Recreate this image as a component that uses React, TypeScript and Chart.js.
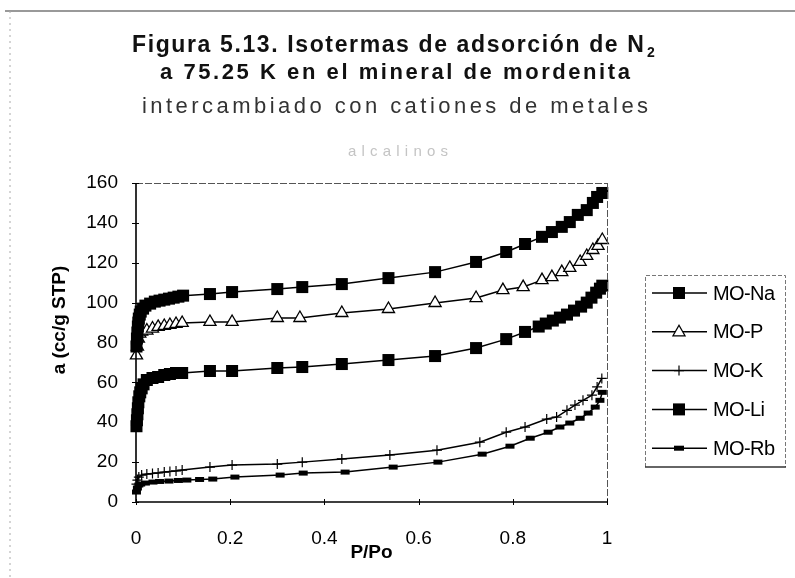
import React, { useEffect, useRef } from "react";
import { Chart, registerables } from "chart.js";

Chart.register(...registerables);

// ---------------- DATA ----------------
const naP = [0.001, 0.002, 0.003, 0.004, 0.005, 0.006, 0.008, 0.01, 0.015, 0.02, 0.03, 0.04, 0.05, 0.06, 0.07, 0.08, 0.09, 0.1, 0.157, 0.204, 0.3, 0.353, 0.437, 0.536, 0.635, 0.722, 0.786, 0.826, 0.862, 0.883, 0.904, 0.921, 0.938, 0.957, 0.97, 0.979, 0.99];
const naA = [78, 82, 85, 88, 90, 92, 94, 95.5, 97, 98.5, 99.5, 100.5, 101, 101.5, 102, 102.5, 103, 103.5, 104.3, 105.3, 106.8, 107.8, 109.3, 112.3, 115.3, 120.4, 125.4, 129.4, 133, 135.4, 138, 140.4, 144, 146.4, 150, 153, 155];

const pP = [0.001, 0.003, 0.005, 0.008, 0.012, 0.023, 0.035, 0.047, 0.06, 0.072, 0.085, 0.098, 0.157, 0.204, 0.3, 0.348, 0.437, 0.536, 0.635, 0.722, 0.779, 0.822, 0.862, 0.883, 0.904, 0.921, 0.943, 0.957, 0.97, 0.981, 0.99];
const pA = [73.5, 78, 82, 84.5, 85.5, 86, 87, 87.8, 88.3, 88.8, 89.3, 89.8, 90.3, 90.3, 92.3, 92.3, 94.8, 96.8, 99.8, 102.3, 106.3, 107.8, 111.3, 112.8, 115.3, 117.4, 120.4, 123.4, 126.4, 128.5, 131.4];

const kP = [0.001, 0.003, 0.006, 0.012, 0.023, 0.035, 0.047, 0.06, 0.072, 0.085, 0.098, 0.157, 0.204, 0.3, 0.353, 0.437, 0.539, 0.639, 0.73, 0.786, 0.826, 0.872, 0.893, 0.915, 0.932, 0.949, 0.968, 0.979, 0.989];
const kA = [9, 11, 12.5, 13.5, 14, 14.3, 14.6, 15, 15.3, 15.6, 16, 17.5, 18.5, 19, 20, 21.6, 23.6, 26, 30, 35, 37.6, 41.6, 42.6, 46, 48.6, 51, 53.6, 57.7, 62];

const liP = [0.001, 0.002, 0.003, 0.004, 0.005, 0.007, 0.009, 0.012, 0.016, 0.023, 0.035, 0.047, 0.06, 0.072, 0.085, 0.098, 0.157, 0.204, 0.3, 0.353, 0.437, 0.536, 0.635, 0.722, 0.786, 0.826, 0.855, 0.87, 0.885, 0.9, 0.915, 0.93, 0.945, 0.957, 0.967, 0.977, 0.985, 0.99];
const liA = [38, 41, 44, 47, 50, 53, 55, 57, 59, 61.2, 62.2, 62.7, 63.7, 64.2, 64.7, 64.7, 65.7, 65.7, 67.2, 67.7, 69.2, 71.2, 73.2, 77.2, 81.7, 85.3, 88, 89.5, 91, 92.5, 94, 96, 98, 100, 102.5, 105, 107, 108.5];

const rbP = [0.001, 0.003, 0.006, 0.01, 0.02, 0.036, 0.05, 0.07, 0.09, 0.108, 0.135, 0.163, 0.21, 0.306, 0.355, 0.444, 0.546, 0.641, 0.735, 0.794, 0.837, 0.875, 0.9, 0.921, 0.943, 0.96, 0.975, 0.985, 0.99];
const rbA = [5, 7, 8.5, 9, 9.5, 10, 10.3, 10.5, 10.8, 11, 11.3, 11.5, 12.5, 13.5, 14.5, 15, 17.5, 20, 24, 28, 32, 35, 37.6, 39.6, 42, 44.6, 47.6, 51, 55];

const SERIES_NAMES = ["MO-Na", "MO-P", "MO-K", "MO-Li", "MO-Rb"];
const X_TICK_VALUES = [0, 0.2, 0.4, 0.6, 0.8, 1];
const X_TICK_LABELS = ["0", "0.2", "0.4", "0.6", "0.8", "1"];
const Y_TICK_VALUES = [0, 20, 40, 60, 80, 100, 120, 140, 160];
const Y_TICK_LABELS = ["0", "20", "40", "60", "80", "100", "120", "140", "160"];

const TITLE_1 = "Figura 5.13. Isotermas de adsorción de N";
const TITLE_1_SUB = "2";
const TITLE_2 = "a 75.25 K en el mineral de mordenita";
const TITLE_3 = "intercambiado con cationes de metales";
const TITLE_4 = "alcalinos";
const X_TITLE = "P/Po";
const Y_TITLE = "a (cc/g STP)";

// --------------------------------------
const FONT = "'Liberation Sans', Arial, sans-serif";
const MARKERS = ["rect", "triangle", "cross", "rect", "line"];

function pts(xs: number[], ys: number[]) {
  return xs.map((v, i) => ({ x: v, y: ys[i] }));
}

function drawMarker(ctx: CanvasRenderingContext2D, kind: string, x: number, y: number) {
  ctx.save();
  ctx.fillStyle = "#000";
  ctx.strokeStyle = "#000";
  if (kind === "rect") {
    ctx.fillRect(x - 6, y - 6, 12, 12);
  } else if (kind === "triangle") {
    ctx.fillStyle = "#fff";
    ctx.lineWidth = 1.3;
    ctx.beginPath();
    ctx.moveTo(x, y - 6.5);
    ctx.lineTo(x + 6, y + 4);
    ctx.lineTo(x - 6, y + 4);
    ctx.closePath();
    ctx.fill();
    ctx.stroke();
  } else if (kind === "cross") {
    ctx.lineWidth = 1.2;
    ctx.beginPath();
    ctx.moveTo(x, y - 5);
    ctx.lineTo(x, y + 5);
    ctx.moveTo(x - 5, y);
    ctx.lineTo(x + 5, y);
    ctx.stroke();
  } else if (kind === "line") {
    ctx.fillRect(x - 5, y - 2.5, 10, 5);
  }
  ctx.restore();
}

function fitText(ctx: CanvasRenderingContext2D, text: string, left: number, right: number, y: number) {
  (ctx as any).letterSpacing = "0px";
  const w = ctx.measureText(text).width;
  const n = Math.max(text.length - 1, 1);
  const sp = (right - left - w) / n;
  (ctx as any).letterSpacing = sp.toFixed(2) + "px";
  ctx.textAlign = "left";
  ctx.fillText(text, left, y);
  (ctx as any).letterSpacing = "0px";
}

const decorPlugin = {
  id: "decor",
  afterDraw(chart: any) {
    const ctx: CanvasRenderingContext2D = chart.ctx;
    const ca = chart.chartArea;
    const xs = chart.scales.x;
    const ys = chart.scales.y;
    ctx.save();

    // page border (scan edges)
    ctx.strokeStyle = "#777";
    ctx.lineWidth = 1.5;
    ctx.beginPath();
    ctx.moveTo(5, 11);
    ctx.lineTo(795, 11);
    ctx.stroke();
    ctx.strokeStyle = "#aaa";
    ctx.lineWidth = 1;
    ctx.setLineDash([2, 4]);
    ctx.beginPath();
    ctx.moveTo(10, 11);
    ctx.lineTo(10, 578);
    ctx.stroke();
    ctx.setLineDash([]);

    // plot box
    ctx.strokeStyle = "#555";
    ctx.lineWidth = 1;
    ctx.setLineDash([7, 2]);
    ctx.beginPath();
    ctx.moveTo(ca.left, ca.top + 0.5);
    ctx.lineTo(ca.right, ca.top + 0.5);
    ctx.moveTo(ca.right + 0.5, ca.top);
    ctx.lineTo(ca.right + 0.5, ca.bottom);
    ctx.stroke();
    ctx.setLineDash([]);
    ctx.strokeStyle = "#000";
    ctx.lineWidth = 1.6;
    ctx.beginPath();
    ctx.moveTo(ca.left, ca.top);
    ctx.lineTo(ca.left, ca.bottom);
    ctx.lineTo(ca.right + 1, ca.bottom);
    ctx.stroke();

    // tick marks crossing the axes
    ctx.lineWidth = 1;
    ctx.beginPath();
    for (const v of Y_TICK_VALUES) {
      const py = Math.round(ys.getPixelForValue(v)) + 0.5;
      ctx.moveTo(ca.left - 4, py);
      ctx.lineTo(ca.left + 3, py);
    }
    for (const v of X_TICK_VALUES) {
      const px = Math.round(xs.getPixelForValue(v)) + 0.5;
      ctx.moveTo(px, ca.bottom - 3);
      ctx.lineTo(px, ca.bottom + 3);
    }
    ctx.stroke();

    // titles
    ctx.fillStyle = "#111";
    ctx.textBaseline = "alphabetic";
    ctx.font = `bold 23px ${FONT}`;
    fitText(ctx, TITLE_1, 132, 644, 52);
    ctx.font = `bold 14px ${FONT}`;
    ctx.textAlign = "left";
    ctx.fillText(TITLE_1_SUB, 647, 57);
    ctx.font = `bold 22px ${FONT}`;
    fitText(ctx, TITLE_2, 160, 630, 79);
    ctx.fillStyle = "#333";
    ctx.font = `22px ${FONT}`;
    fitText(ctx, TITLE_3, 142, 648, 113);
    ctx.fillStyle = "#c4c4c4";
    ctx.font = `15px ${FONT}`;
    fitText(ctx, TITLE_4, 348, 448, 156);

    // y-axis title
    ctx.save();
    ctx.translate(60, 320);
    ctx.rotate(-Math.PI / 2);
    ctx.fillStyle = "#000";
    ctx.font = `bold 19px ${FONT}`;
    ctx.textAlign = "center";
    ctx.textBaseline = "middle";
    ctx.fillText(Y_TITLE, 0, 0);
    ctx.restore();

    // legend
    const lx = 645, lt = 275, lr = 785, lb = 467;
    ctx.strokeStyle = "#777";
    ctx.lineWidth = 1;
    ctx.setLineDash([4, 2]);
    ctx.beginPath();
    ctx.moveTo(lx + 0.5, lb);
    ctx.lineTo(lx + 0.5, lt + 0.5);
    ctx.lineTo(lr + 0.5, lt + 0.5);
    ctx.lineTo(lr + 0.5, lb);
    ctx.stroke();
    ctx.setLineDash([]);
    ctx.strokeStyle = "#333";
    ctx.lineWidth = 1.5;
    ctx.beginPath();
    ctx.moveTo(lx, lb);
    ctx.lineTo(lr + 1, lb);
    ctx.stroke();

    SERIES_NAMES.forEach((name, i) => {
      const y = 293 + i * 38.8;
      ctx.strokeStyle = "#000";
      ctx.lineWidth = 1.5;
      ctx.beginPath();
      ctx.moveTo(652, y);
      ctx.lineTo(707, y);
      ctx.stroke();
      drawMarker(ctx, MARKERS[i], 679, y);
      ctx.fillStyle = "#000";
      ctx.font = `20px ${FONT}`;
      ctx.textAlign = "left";
      ctx.textBaseline = "middle";
      (ctx as any).letterSpacing = "-0.6px";
      ctx.fillText(name, 713, y + 1);
      (ctx as any).letterSpacing = "0px";
    });

    ctx.restore();
  },
};

export default function App() {
  const ref = useRef<HTMLCanvasElement | null>(null);

  useEffect(() => {
    document.body.style.margin = "0";
    const canvas = ref.current;
    if (!canvas) return;

    const common = {
      borderColor: "#000",
      borderWidth: 1.5,
      pointBorderColor: "#000",
      showLine: true,
      tension: 0,
      clip: false as any,
    };

    const chart = new Chart(canvas, {
      type: "scatter",
      data: {
        datasets: [
          { ...common, label: SERIES_NAMES[0], data: pts(naP, naA), pointStyle: "rect", pointRadius: 8.5, pointBackgroundColor: "#000", pointBorderWidth: 0 },
          { ...common, label: SERIES_NAMES[1], data: pts(pP, pA), pointStyle: "triangle", pointRadius: 7, pointBackgroundColor: "#fff", pointBorderWidth: 1.3 },
          { ...common, label: SERIES_NAMES[2], data: pts(kP, kA), pointStyle: "cross", pointRadius: 5, pointBorderWidth: 1.2 },
          { ...common, label: SERIES_NAMES[3], data: pts(liP, liA), pointStyle: "rect", pointRadius: 8.5, pointBackgroundColor: "#000", pointBorderWidth: 0 },
          { ...common, label: SERIES_NAMES[4], data: pts(rbP, rbA), pointStyle: "line", pointRadius: 4.5, pointBorderWidth: 5 },
        ] as any,
      },
      options: {
        animation: false,
        responsive: false,
        devicePixelRatio: 1,
        layout: { padding: { left: 0, right: 188, top: 183, bottom: 0 } },
        plugins: {
          legend: { display: false },
          tooltip: { enabled: false },
          title: { display: false },
        },
        scales: {
          x: {
            type: "linear",
            min: 0,
            max: 1,
            grid: { display: false, drawTicks: false },
            border: { display: false },
            afterBuildTicks: (s: any) => {
              s.ticks = X_TICK_VALUES.map((v) => ({ value: v }));
            },
            afterFit: (s: any) => {
              s.height = 76;
            },
            ticks: {
              color: "#000",
              padding: 25,
              maxRotation: 0,
              autoSkip: false,
              font: { size: 19, family: FONT },
              callback: (v: any) => X_TICK_LABELS[X_TICK_VALUES.indexOf(Number(v))] ?? "",
            },
            title: {
              display: true,
              text: X_TITLE,
              color: "#000",
              font: { size: 19, weight: "bold", family: FONT },
              padding: { top: 0, bottom: 14 },
            },
          },
          y: {
            type: "linear",
            min: 0,
            max: 160,
            grid: { display: false, drawTicks: false },
            border: { display: false },
            afterBuildTicks: (s: any) => {
              s.ticks = Y_TICK_VALUES.map((v) => ({ value: v }));
            },
            afterFit: (s: any) => {
              s.width = 136;
            },
            ticks: {
              color: "#000",
              padding: 18,
              autoSkip: false,
              font: { size: 19, family: FONT },
              callback: (v: any) => Y_TICK_LABELS[Y_TICK_VALUES.indexOf(Number(v))] ?? "",
            },
          },
        },
      },
      plugins: [decorPlugin],
    });

    return () => chart.destroy();
  }, []);

  return (
    <div style={{ width: 795, height: 578, background: "#fff" }}>
      <canvas ref={ref} width={795} height={578} style={{ display: "block", width: 795, height: 578 }} />
    </div>
  );
}
